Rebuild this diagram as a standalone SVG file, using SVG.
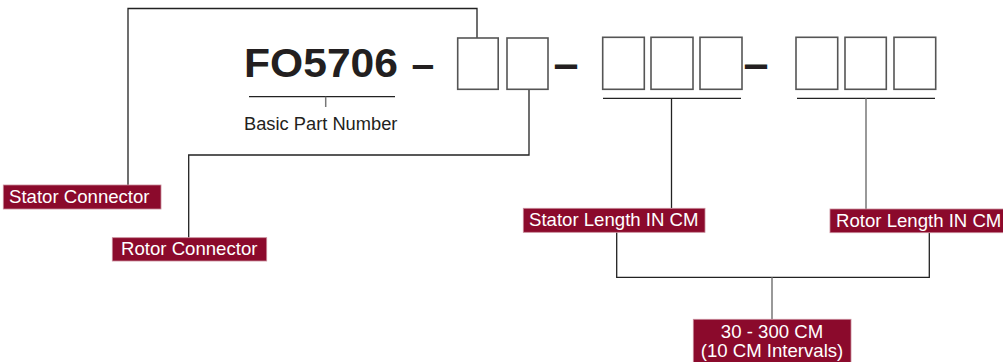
<svg xmlns="http://www.w3.org/2000/svg" width="1003" height="362" viewBox="0 0 1003 362">
<style>
.lbl{fill:#8b0a2c;stroke:#c88b9a;stroke-width:0.8}
.lt{font-family:"Liberation Sans",Arial,sans-serif;font-size:18.6px;fill:#ffffff}
.bx{fill:#ffffff;stroke:#555555;stroke-width:1.6}
.ln{fill:none;stroke:#222222;stroke-width:1.3}
.lg{fill:none;stroke:#777777;stroke-width:1.5}
.big{font-family:"Liberation Sans",Arial,sans-serif;font-weight:bold;fill:#231f20}
</style>
<rect width="1003" height="362" fill="#ffffff"/>
<g id="connectors">
<polyline class="ln" points="128,185 128,8.5 477,8.5 477,38"/>
<polyline class="ln" points="188.7,237.7 188.7,155 529,155 529,89"/>
<line class="ln" x1="249" y1="96.7" x2="395" y2="96.7"/>
<line class="lg" x1="325.7" y1="96.7" x2="325.7" y2="107"/>
<line class="ln" x1="603" y1="98.3" x2="741" y2="98.3"/>
<line class="ln" x1="671.5" y1="98.3" x2="671.5" y2="208.3"/>
<line class="ln" x1="797" y1="98.3" x2="935" y2="98.3"/>
<line class="lg" x1="866" y1="98.3" x2="866" y2="209"/>
<polyline class="ln" points="616.7,232.3 616.7,277.3 929.3,277.3 929.3,232.7"/>
<line class="lg" x1="772" y1="277.3" x2="772" y2="319.3"/>
</g>
<g id="part-number">
<text class="big" x="244" y="77.3" font-size="41" textLength="154" lengthAdjust="spacingAndGlyphs">FO5706</text>
<text class="big" x="411.5" y="78" font-size="41">–</text>
<text class="big" x="553.5" y="78.5" font-size="45">–</text>
<text class="big" x="743.5" y="78.5" font-size="45">–</text>
<text x="244" y="130" font-family="Liberation Sans,Arial,sans-serif" font-size="18.3" fill="#231f20">Basic Part Number</text>
</g>
<g id="boxes">
<rect class="bx" x="457.7" y="38" width="40.5" height="51.3"/>
<rect class="bx" x="507" y="38" width="41" height="51.3"/>
<rect class="bx" x="602.7" y="37.3" width="41.6" height="52"/>
<rect class="bx" x="651" y="37.3" width="42" height="52"/>
<rect class="bx" x="700" y="37.3" width="42" height="52"/>
<rect class="bx" x="796" y="37.3" width="41.7" height="52"/>
<rect class="bx" x="845" y="37.3" width="41.3" height="52"/>
<rect class="bx" x="894" y="37.3" width="41.7" height="52"/>
</g>
<g id="stator-connector">
<rect class="lbl" x="3.3" y="185" width="157.7" height="24"/>
<text class="lt" x="9" y="203">Stator Connector</text>
</g>
<g id="rotor-connector">
<rect class="lbl" x="112.3" y="237.7" width="154.4" height="23.3"/>
<text class="lt" x="121" y="255">Rotor Connector</text>
</g>
<g id="stator-length">
<rect class="lbl" x="523.3" y="208.3" width="181.7" height="24"/>
<text class="lt" x="529" y="226">Stator Length IN CM</text>
</g>
<g id="rotor-length">
<rect class="lbl" x="830" y="209" width="175" height="23.7"/>
<text class="lt" x="836" y="226.7">Rotor Length IN CM</text>
</g>
<g id="range">
<rect class="lbl" x="693.3" y="319.3" width="157.7" height="45"/>
<text class="lt" x="772" y="337.5" text-anchor="middle">30 - 300 CM</text>
<text class="lt" x="772" y="356.5" text-anchor="middle">(10 CM Intervals)</text>
</g>
</svg>
